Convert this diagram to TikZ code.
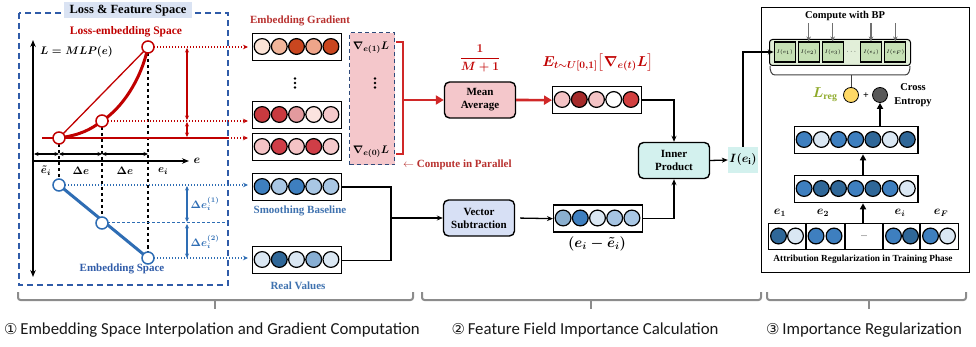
\documentclass[tikz,border=0pt]{standalone}
\usepackage{amsmath}
\usepackage{fontspec}
\setmainfont{Liberation Serif}
\newfontfamily\botfont{Carlito}
\newfontfamily\dvfont{DejaVu Sans}
\usetikzlibrary{arrows.meta,calc}
\definecolor{redc}{HTML}{C00000}
\definecolor{redtxt}{HTML}{B8312F}
\definecolor{arrred}{HTML}{D02828}
\definecolor{bluec}{HTML}{2F5BA8}
\definecolor{bluept}{HTML}{2E6DB4}
\definecolor{bluetxt}{HTML}{3F72AF}
\definecolor{titlefill}{HTML}{DAE3F3}
\definecolor{pinkbox}{HTML}{F4C7CB}
\definecolor{navy}{HTML}{2F4A7A}
\definecolor{cyanbox}{HTML}{D3F1EE}
\definecolor{lavbox}{HTML}{D7E0F5}
\definecolor{greenbg}{HTML}{E2EFD9}
\definecolor{greencell}{HTML}{C5E0B4}
\definecolor{yellowc}{HTML}{FFD966}
\definecolor{darkc}{HTML}{595959}
\definecolor{olivec}{HTML}{8FAA2B}
\definecolor{bracec}{HTML}{8C8C8C}
\definecolor{grayarr}{HTML}{707070}
\definecolor{ga}{HTML}{FBE3D6}
\definecolor{gb}{HTML}{F1B59A}
\definecolor{gc}{HTML}{C9461F}
\definecolor{gd}{HTML}{EFA58A}
\definecolor{ge}{HTML}{C93A3F}
\definecolor{gf}{HTML}{E39A9E}
\definecolor{gg}{HTML}{FBE3DF}
\definecolor{gh}{HTML}{F5C9CB}
\definecolor{gi}{HTML}{F4C3C5}
\definecolor{gj}{HTML}{CF3E47}
\definecolor{ak}{HTML}{A52A2A}
\definecolor{al}{HTML}{D23F3F}
\definecolor{ba}{HTML}{3E7FBF}
\definecolor{bb}{HTML}{A9C7E4}
\definecolor{bc}{HTML}{DAE7F3}
\definecolor{bd}{HTML}{2F6798}
\definecolor{be}{HTML}{87AED3}
\definecolor{bf}{HTML}{8AAFCF}
\definecolor{bg}{HTML}{A6C4E2}
\newcommand\cvec[5]{%
  \node[vbox,anchor=north west,minimum width={#4*17.2+3}] (#1) at (#2,#3) {};
  \foreach \c [count=\i] in {#5}{%
    \draw[line width=1.2pt,fill=\c] ({#2+1.5+8.6+(\i-1)*17.2},{#3+13.5}) circle (7.9pt);}%
}
\newcommand\vdotsat[2]{%
  \foreach \k in {-1,0,1} \fill ({#1},{#2+\k*4.5}) circle (1.3pt);}
\begin{document}
\begin{tikzpicture}[x=1pt,y=-1pt,>={Stealth[length=5pt,width=4.5pt]}]
\tikzset{
  mth/.style={inner sep=0pt,font={\boldmath\fontsize{#1}{#1}\selectfont}}, mth/.default=10,
  bt/.style={inner sep=0pt,font={\bfseries\fontsize{#1}{#1}\selectfont}}, bt/.default=10,
  vbox/.style={draw,line width=1.3pt,fill=white,inner sep=0pt,minimum height=27pt},
  procbox/.style={draw,rounded corners=5pt,line width=1.4pt,minimum width=71pt,minimum height=36pt,align=center,inner sep=0pt,font={\bfseries\fontsize{11}{13}\selectfont}},
  dotarr/.style={line width=1.3pt,dash pattern=on 1.4pt off 1.6pt,-{Stealth[length=5pt,width=4.5pt]}},
  dimarr/.style={line width=1.1pt,{Stealth[length=4.5pt,width=4pt]}-{Stealth[length=4.5pt,width=4pt]}},
  flow/.style={line width=1.3pt,-{Stealth[length=6pt,width=5pt]}},
  thickup/.style={line width=2pt,-{Triangle[length=6pt,width=6pt]}},
  redflow/.style={arrred,line width=2.6pt,-{Triangle[length=8pt,width=9pt]}},
  cell/.style={draw,line width=1.1pt,fill=greencell,minimum width=21pt,minimum height=20pt,inner sep=0pt,font={\fontsize{5.5}{5.5}\selectfont}},
  bracestyle/.style={bracec,line width=2pt,rounded corners=2.5pt},
  captxt/.style={inner sep=0pt,font={\botfont\fontsize{16.8}{18}\selectfont},text=black!90},
}
\useasboundingbox (0,0) rectangle (976,347);

% ---------------- left panel ----------------
\draw[bluec,line width=1.4pt,dash pattern=on 6pt off 4pt] (19,13) rectangle (228,285);
\node[fill=titlefill,minimum width=128pt,minimum height=16pt,inner sep=0pt,font={\bfseries\fontsize{12.5}{13}\selectfont}] (title) at (128,10.5) {Loss \& Feature Space};
\node[bt=11.5,text=redc] (lesp) at (126,32) {Loss-embedding Space};
\node[mth=11,anchor=west] (lmlp) at (40,52) {$L=MLP(e)$};

\coordinate (A) at (59,138);
\coordinate (B) at (102,121);
\coordinate (C) at (148,47);
\coordinate (D) at (59,185);
\coordinate (E) at (102,223);
\coordinate (F) at (148,258);

\draw[line width=1.8pt,{Stealth[length=7pt,width=5.5pt]}-{Stealth[length=7pt,width=5.5pt]}] (33,40) -- (33,277);
\draw[line width=1.8pt,-{Stealth[length=7pt,width=5.5pt]}] (33,161) -- (189,161);
\node[mth=11.5] (elab) at (197,161) {$e$};

\draw[dimarr] (34,154) -- (59,154);
\draw[dimarr] (59,154) -- (102,154);
\draw[dimarr] (102,154) -- (148,154);
\node[mth=11] (l1) at (46,171) {$\tilde e_i$};
\node[mth=11] (l2) at (81,171) {$\Delta e$};
\node[mth=11] (l3) at (125,171) {$\Delta e$};
\node[mth=11] (l4) at (163,171) {$e_i$};

\draw[line width=1.2pt,dash pattern=on 3.5pt off 2.5pt] (A) -- (D);
\draw[line width=1.2pt,dash pattern=on 3.5pt off 2.5pt] (B) -- (E);
\draw[line width=1.2pt,dash pattern=on 3.5pt off 2.5pt] (C) -- (F);

\draw[redc,line width=2pt] (42,138) -- (228,138);
\draw[redc,dotarr] (228,138) -- (248,138);
\draw[redc,line width=1.3pt] (A) -- (C);
\draw[redc,line width=3pt] (A) .. controls (80,135) and (90,130) .. (B) .. controls (122,108) and (141,80) .. (C);
\draw[redc,dotarr] (C) -- (248,47);
\draw[redc,dotarr] (B) -- (248,121);
\draw[redc,dimarr] (187,48) -- (187,120);
\draw[redc,dimarr] (187,122) -- (187,137);

\draw[bluept,line width=3pt] (D) -- (F);
\draw[bluept,dotarr] (D) -- (248,185);
\draw[bluept,dotarr] (F) -- (248,258);
\draw[bluept,line width=1pt,dash pattern=on 3pt off 2pt] (E) -- (228,223);
\draw[bluept,dimarr] (187,186) -- (187,222);
\draw[bluept,dimarr] (187,224) -- (187,258);
\node[mth=10.5,text=bluept] (d1) at (205,204) {$\Delta e_i^{(1)}$};
\node[mth=10.5,text=bluept] (d2) at (205,242) {$\Delta e_i^{(2)}$};
\node[bt=11,text=bluec] (esp) at (122,269) {Embedding Space};

\foreach \p in {A,B,C} \draw[redc,line width=1.5pt,fill=white] (\p) circle (6pt);
\foreach \p in {D,E,F} \draw[bluept,line width=1.5pt,fill=white] (\p) circle (6pt);

% ---------------- gradients ----------------
\node[bt=11,text=redtxt] (eg) at (300,21) {Embedding Gradient};
\cvec{g1}{252}{33}{5}{ga,gb,gc,gd,gc}
\cvec{g2}{252}{101}{5}{ge,ge,gf,gg,gh}
\cvec{g3}{252}{133}{5}{gi,gj,gi,gj,gh}
\vdotsat{295}{83}

\node[draw=navy,line width=1.2pt,dash pattern=on 4pt off 3pt,fill=pinkbox,minimum width=45pt,minimum height=132pt,inner sep=0pt,anchor=north west] (pbox) at (349,32) {};
\node[mth=11] (n1) at (371,48) {$\nabla_{e(1)}L$};
\vdotsat{375}{83}
\node[mth=11] (n0) at (371,152) {$\nabla_{e(0)}L$};

\draw[arrred,line width=2.6pt] (396,42) -- (403,42) -- (403,154) -- (396,154);
\node[procbox,fill=pinkbox] (mean) at (480,100) {Mean\\Average};
\coordinate (brm) at (403,100);
\draw[redflow] (brm) -- (mean.west);
\node[bt=11,text=redtxt,anchor=west] (cip) at (403,165) {$\leftarrow$ Compute in Parallel};
\node[mth=13,text=redc] (frac) at (480,58) {$\dfrac{1}{M+1}$};
\cvec{avg}{552}{86}{5}{gi,ak,gi,white,al}
\draw[redflow] (mean.east) -- (avg.west);
\node[mth=14,text=redc] (expt) at (598,63) {$E_{t\sim U[0,1]}\big[\nabla_{e(t)}L\big]$};

% ---------------- inner product ----------------
\node[procbox,fill=cyanbox] (inner) at (674,160.5) {Inner\\Product};
\draw[flow] (avg.east) -| (inner.north);
\node[fill=cyanbox,minimum width=30pt,minimum height=26pt,inner sep=0pt,font={\boldmath\fontsize{12.5}{13}\selectfont}] (Ie) at (743,160) {$I(e_{\mathrm{i}})$};
\draw[flow] (inner.east) -- (Ie.west);

% ---------------- baseline / real ----------------
\cvec{sb}{252}{173}{5}{ba,bb,ba,bb,bb}
\node[bt=11,text=bluetxt] (sbl) at (300,211) {Smoothing Baseline};
\cvec{rv}{252}{246}{5}{bc,bd,bc,be,bc}
\node[bt=11,text=bluetxt] (rvl) at (298,286) {Real Values};
\coordinate (jn) at (391,218);
\draw[line width=1.3pt] (sb.east) -| (jn) |- (rv.east);
\node[procbox,fill=lavbox] (vsub) at (479,218) {Vector\\Subtraction};
\draw[flow] (jn) -- (vsub.west);
\cvec{diff}{553}{204.5}{5}{bf,ba,bc,bg,bb}
\draw[flow,shorten <=5pt] (vsub.east) -- (diff.west);
\draw[flow] (diff.east) -| (inner.south);
\node[mth=14] (dlab) at (597,244) {$(e_i-\tilde e_i)$};

% ---------------- right panel ----------------
\node[draw,line width=1.2pt,minimum width=208pt,minimum height=265pt,inner sep=0pt,anchor=north west] (rp) at (761,7) {};
\node[bt=10.5] (cbp) at (845,16) {Compute with BP};
\node[draw,line width=1pt,rounded corners=3pt,fill=greenbg,minimum width=141pt,minimum height=26pt,inner sep=0pt,anchor=north west] (gcont) at (769,39) {};
\node[cell] (c1) at (784.7,52) {$I(e_1)$};
\node[cell] (c2) at (808.7,52) {$I(e_2)$};
\node[cell] (c3) at (832.7,52) {$I(e_3)$};
\node[inner sep=0pt,font={\fontsize{7}{7}\selectfont}] (cdots) at (852,52) {$\cdots$};
\node[cell] (ci) at (871,52) {$I(e_i)$};
\node[cell] (cF) at (895.3,52) {$I(e_F)$};
\foreach \n in {c2,c3,ci,cF} \draw[grayarr,line width=1.2pt,-{Stealth[length=5pt,width=4.5pt]}] (\n.north) ++(0,-18) -- (\n.north);
\draw[flow] (Ie.north) |- (c1.west);

\node[circle,draw,line width=0.8pt,fill=yellowc,minimum size=15pt,inner sep=0pt] (yel) at (851,95) {};
\node[circle,draw,line width=0.8pt,fill=darkc,minimum size=15pt,inner sep=0pt] (dark) at (880,95) {};
\draw[black!75,line width=1pt] (770,66) to[out=-90,in=180] (775,75) -- (905,75) to[out=0,in=-90] (910,66);
\draw[black!75,line width=1pt] (851,75) -- (yel.north);
\node[bt=10] (plus) at (866,96) {+};
\node[inner sep=0pt,text=olivec,font={\boldmath\fontsize{14}{14}\selectfont}] (lreg) at (825,95) {$L_{\textbf{reg}}$};
\node[align=center,inner sep=0pt,font={\bfseries\fontsize{10.5}{14}\selectfont}] (ce) at (913,95) {Cross\\Entropy};

\cvec{rtop}{794}{126}{7}{ba,bc,ba,ba,bd,bc,bd}
\cvec{rmid}{794}{175}{7}{ba,bd,bd,ba,bd,ba,bc}
\node[draw,line width=1.3pt,fill=white,minimum width=190pt,minimum height=26pt,inner sep=0pt,anchor=north west] (bot) at (768,223) {};
\foreach \x in {806,845,883,920} \draw[line width=1.3pt] (\x,223) -- (\x,249);
\foreach \x/\c in {778.5/bd,795.5/bc,816/ba,834/ba,893.5/ba,910.5/bd,930.5/ba,947.5/bc} \draw[line width=1.2pt,fill=\c] (\x,236) circle (7.9pt);
\node[inner sep=0pt,font={\fontsize{8}{8}\selectfont}] (bdots) at (864,236) {...};
\node[mth=12] (e1) at (780,213) {$e_1$};
\node[mth=12] (e2) at (823,213) {$e_2$};
\node[mth=12] (ei) at (900,213) {$e_i$};
\node[mth=12] (eF) at (941,213) {$e_F$};
\node[bt=9.3] (arl) at (863,259) {Attribution Regularization in Training Phase};
\coordinate (ax) at (863,0);
\draw[thickup] (bot.north -| ax) -- (rmid.south -| ax);
\draw[thickup] (rmid.north -| ax) -- (rtop.south -| ax);
\draw[thickup] (rtop.north -| dark) -- (dark.south);

% ---------------- bottom braces ----------------
\draw[bracestyle] (18,292) -- (18,300) -- (413,300) -- (413,292);
\draw[bracestyle] (215,300) -- (215,309);
\draw[bracestyle] (422,292) -- (422,300) -- (761,300) -- (761,292);
\draw[bracestyle] (591,300) -- (591,309);
\draw[bracestyle] (767,292) -- (767,300) -- (966,300) -- (966,292);
\draw[bracestyle] (869,300) -- (869,309);

\node[captxt] (t1) at (212,330) {{\dvfont\fontsize{15}{18}\selectfont ①}\,Embedding Space Interpolation and Gradient Computation};
\node[captxt] (t2) at (585,330) {{\dvfont\fontsize{15}{18}\selectfont ②}\,Feature Field Importance Calculation};
\node[captxt] (t3) at (864,330) {{\dvfont\fontsize{15}{18}\selectfont ③}\,Importance Regularization};
\end{tikzpicture}
\end{document}
